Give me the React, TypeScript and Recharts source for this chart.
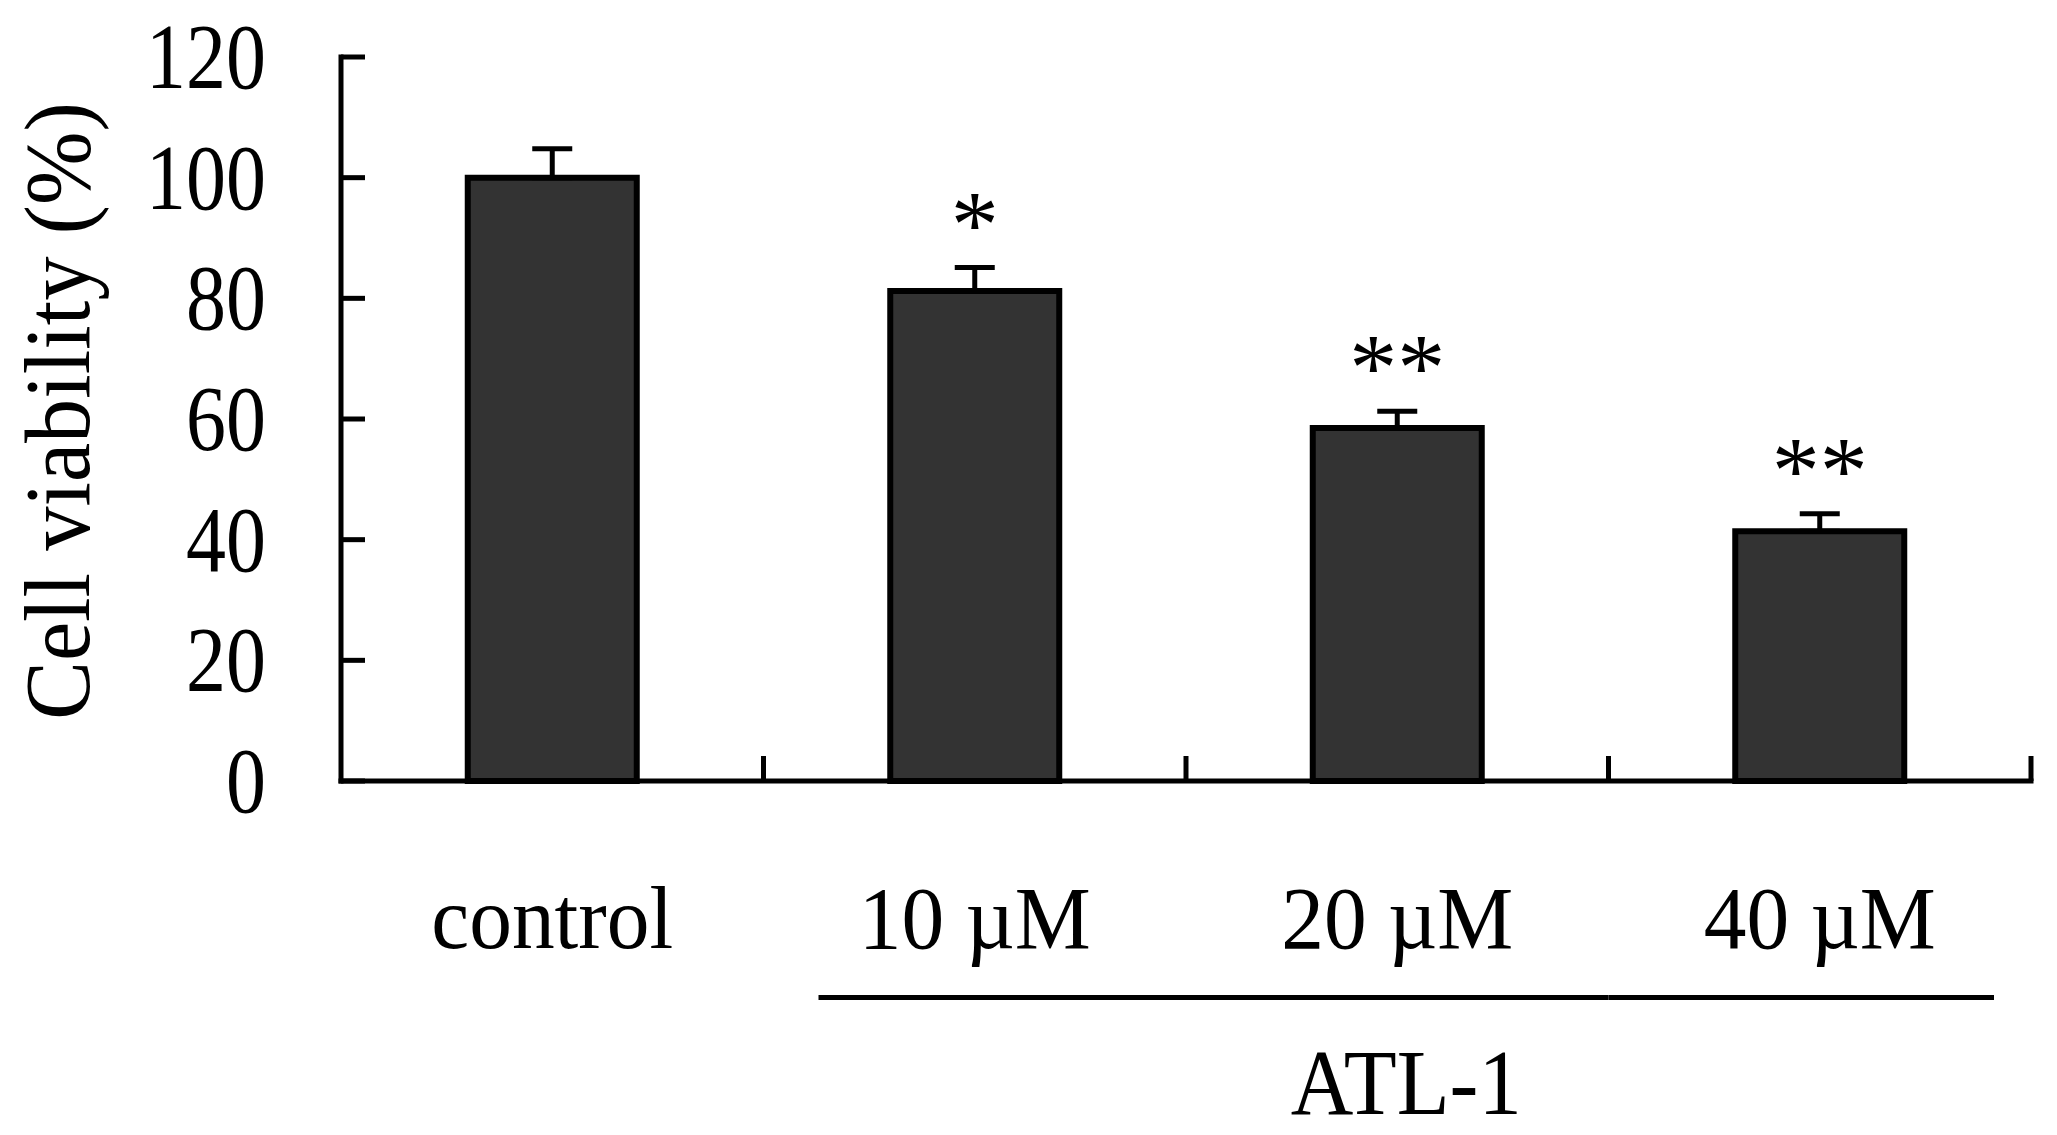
import React from "react";
import { BarChart, Bar, XAxis, YAxis, ErrorBar, LabelList, Label } from "recharts";

// ---- data ----
const categories = ["control", "10 µM", "20 µM", "40 µM"];
const viability = [100, 81.2, 58.5, 41.4];
const sem = [4.8, 3.9, 2.8, 2.9];
const significance = ["", "*", "**", "**"];
const treatmentGroup = ["", "ATL-1", "ATL-1", "ATL-1"];
const yTicks = [0, 20, 40, 60, 80, 100, 120];
const yLabel = "Cell viability (%)";

const data = categories.map((name, i) => ({
  name,
  value: viability[i],
  err: [0, sem[i]],
  sig: significance[i],
}));

// ---- layout / style ----
const W = 2057;
const H = 1135;
const FONT = '"Liberation Serif", "Times New Roman", serif';
const INK = "#000";
const BAR_FILL = "#333333";

const YTick = (props: any) => {
  const { x, y, payload } = props;
  return (
    <g>
      <line x1={x} x2={x + 24} y1={y} y2={y} stroke={INK} strokeWidth={5} />
      <text
        transform={`translate(${x - 75},${y + 31}) scale(0.86,1)`}
        textAnchor="end"
        fontFamily={FONT}
        fontSize={93}
        fill={INK}
      >
        {payload.value}
      </text>
    </g>
  );
};

const XTick = (props: any) => {
  const { x, y, payload } = props;
  const i: number = payload?.index ?? props.index ?? categories.indexOf(payload.value);
  const half: number = payload?.offset || (W - 341 - 26) / categories.length / 2;
  const grp = treatmentGroup[i];
  const members = treatmentGroup
    .map((g, k) => (g && g === grp ? k : -1))
    .filter((k) => k >= 0);
  const isFirst = grp && members[0] === i;
  const isLast = grp && members[members.length - 1] === i;
  const isMiddle = grp && members[Math.floor(members.length / 2)] === i;
  const bx1 = isFirst ? x - half + 55 : x - half;
  const bx2 = isLast ? x + half - 37 : x + half;
  return (
    <g>
      <line x1={x + half} x2={x + half} y1={y} y2={y - 25} stroke={INK} strokeWidth={5} />
      <text
        transform={`translate(${x},${y + 167}) scale(0.96,1)`}
        textAnchor="middle"
        fontFamily={FONT}
        fontSize={89}
        fill={INK}
      >
        {payload.value}
      </text>
      {grp ? <line x1={bx1} x2={bx2} y1={y + 216.5} y2={y + 216.5} stroke={INK} strokeWidth={5} /> : null}
      {isMiddle ? (
        <text
          x={x + 9}
          y={y + 333}
          textAnchor="middle"
          fontFamily={FONT}
          fontSize={94}
          textLength={231}
          lengthAdjust="spacingAndGlyphs"
          fill={INK}
        >
          {grp}
        </text>
      ) : null}
    </g>
  );
};

const renderSig = (props: any) => {
  const vb = props.viewBox || props;
  const { x, y, width, height } = vb;
  const i: number = props.index;
  const txt = significance[i];
  if (!txt) return null;
  const pxPerUnit = height / viability[i];
  const errTop = y - sem[i] * pxPerUnit;
  const cy = errTop - 56;
  return (
    <text
      key={`sig-${i}`}
      x={x + width / 2}
      y={cy + 45}
      textAnchor="middle"
      fontFamily={FONT}
      fontSize={96}
      fill={INK}
    >
      {txt}
    </text>
  );
};

const renderYLabel = () => (
  <text
    transform="translate(89,411) rotate(-90)"
    textAnchor="middle"
    fontFamily={FONT}
    fontSize={94}
    textLength={618}
    lengthAdjust="spacingAndGlyphs"
    fill={INK}
  >
    {yLabel}
  </text>
);

export default function App() {
  return (
    <div style={{ position: "absolute", left: 0, top: 0, width: W, height: H, background: "#fff" }}>
      <BarChart
        width={W}
        height={H}
        data={data}
        margin={{ top: 57, right: 26, bottom: 0, left: 0 }}
        barCategoryGap="30%"
      >
        <XAxis
          dataKey="name"
          height={354}
          axisLine={{ stroke: INK, strokeWidth: 5, strokeLinecap: "square" }}
          tickLine={false}
          tickSize={0}
          tickMargin={0}
          tick={<XTick />}
          interval={0}
        />
        <YAxis
          width={341}
          domain={[0, 120]}
          ticks={yTicks}
          interval={0}
          axisLine={{ stroke: INK, strokeWidth: 5, strokeLinecap: "square" }}
          tickLine={false}
          tickSize={0}
          tickMargin={0}
          tick={<YTick />}
        >
          <Label content={renderYLabel} />
        </YAxis>
        <Bar dataKey="value" fill={BAR_FILL} stroke={INK} strokeWidth={6} isAnimationActive={false}>
          <ErrorBar dataKey="err" direction="y" width={20} stroke={INK} strokeWidth={5} isAnimationActive={false} />
          <LabelList dataKey="sig" content={renderSig} />
        </Bar>
      </BarChart>
    </div>
  );
}
